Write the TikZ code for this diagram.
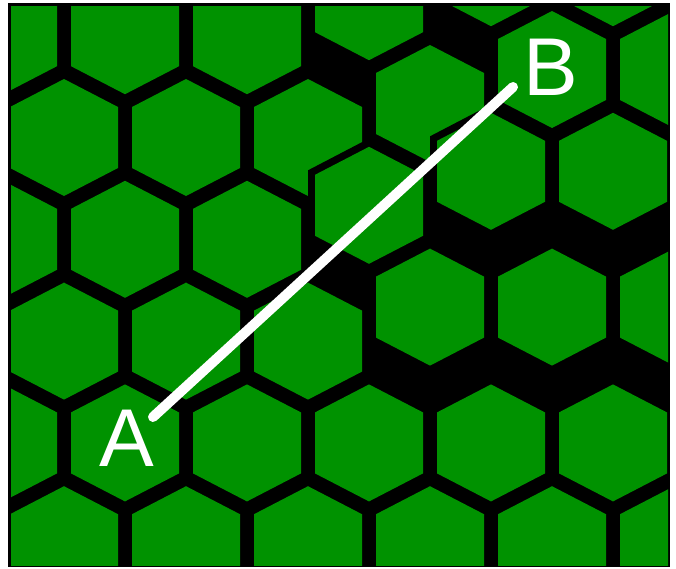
\documentclass[tikz,border=0pt]{standalone}
\usepackage{fontspec}
\setmainfont{Liberation Sans}

\begin{document}
\begin{tikzpicture}[x=1pt, y=-1pt]
    \definecolor{cellGreen}{RGB}{0,146,0}
    \definecolor{gapBlack}{HTML}{000000}

    \def\colStep{61}
    \def\rowStep{101.8}
    \def\rowTop{35.7}
    % green cell
    \def\halfW{54}
    \def\edgeH{30.5}
    \def\tipH{58.5}
    % cell with its half of the black gap
    \def\halfWo{61}
    \def\edgeHo{35}
    \def\tipHo{66.8}

    \tikzset{
        hexcell/.pic={
            \fill[cellGreen] (-\halfW,-\edgeH) -- (0,-\tipH) -- (\halfW,-\edgeH)
                -- (\halfW,\edgeH) -- (0,\tipH) -- (-\halfW,\edgeH) -- cycle;
        },
        hexplate/.pic={
            \fill[gapBlack] (-\halfWo,-\edgeHo) -- (0,-\tipHo) -- (\halfWo,-\edgeHo)
                -- (\halfWo,\edgeHo) -- (0,\tipHo) -- (-\halfWo,\edgeHo) -- cycle;
            \pic {hexcell};
        },
        letter/.style={text=white, inner sep=0pt, font=\fontsize{82}{82}\selectfont}
    }

    \useasboundingbox (0,0) rectangle (676,568);

    % Draw frame (black shows through between the cells)
    \fill[gapBlack] (8,3) rectangle (670,567);

    \begin{scope}
        \clip (11,6) rectangle (668,565);

        % Unshifted cells
        \foreach \c/\r in {0/1,2/1,4/1, 1/2,3/2,5/2, 0/3,2/3,4/3, 1/4,3/4,5/4,
                           0/5,2/5,4/5,6/5,8/5,10/5, 1/6,3/6,5/6,7/6,9/6,11/6}
            \pic at ({3+\colStep*\c},{\rowTop+\rowStep*(\r-1)}) {hexcell};

        % Cells moved up by a third of a row
        \foreach \c/\r in {6/1, 7/2, 6/3, 7/4,9/4,11/4}
            \pic at ({3+\colStep*\c},{\rowTop+\rowStep*(\r-1)-34}) {hexplate};

        % Cells moved up by two thirds of a row
        \foreach \c/\r in {8/1,10/1, 9/2,11/2, 8/3,10/3}
            \pic at ({3+\colStep*\c},{\rowTop+\rowStep*(\r-1)-68}) {hexplate};
    \end{scope}

    % Path from A to B
    \coordinate (endA) at (153,417);
    \coordinate (endB) at (513,87);
    \draw[white, line width=10pt, line cap=round] (endA) -- (endB);

    \node[letter] (labA) at (127,438) {A};
    \node[letter] (labB) at (551,67) {B};

\end{tikzpicture}
\end{document}
